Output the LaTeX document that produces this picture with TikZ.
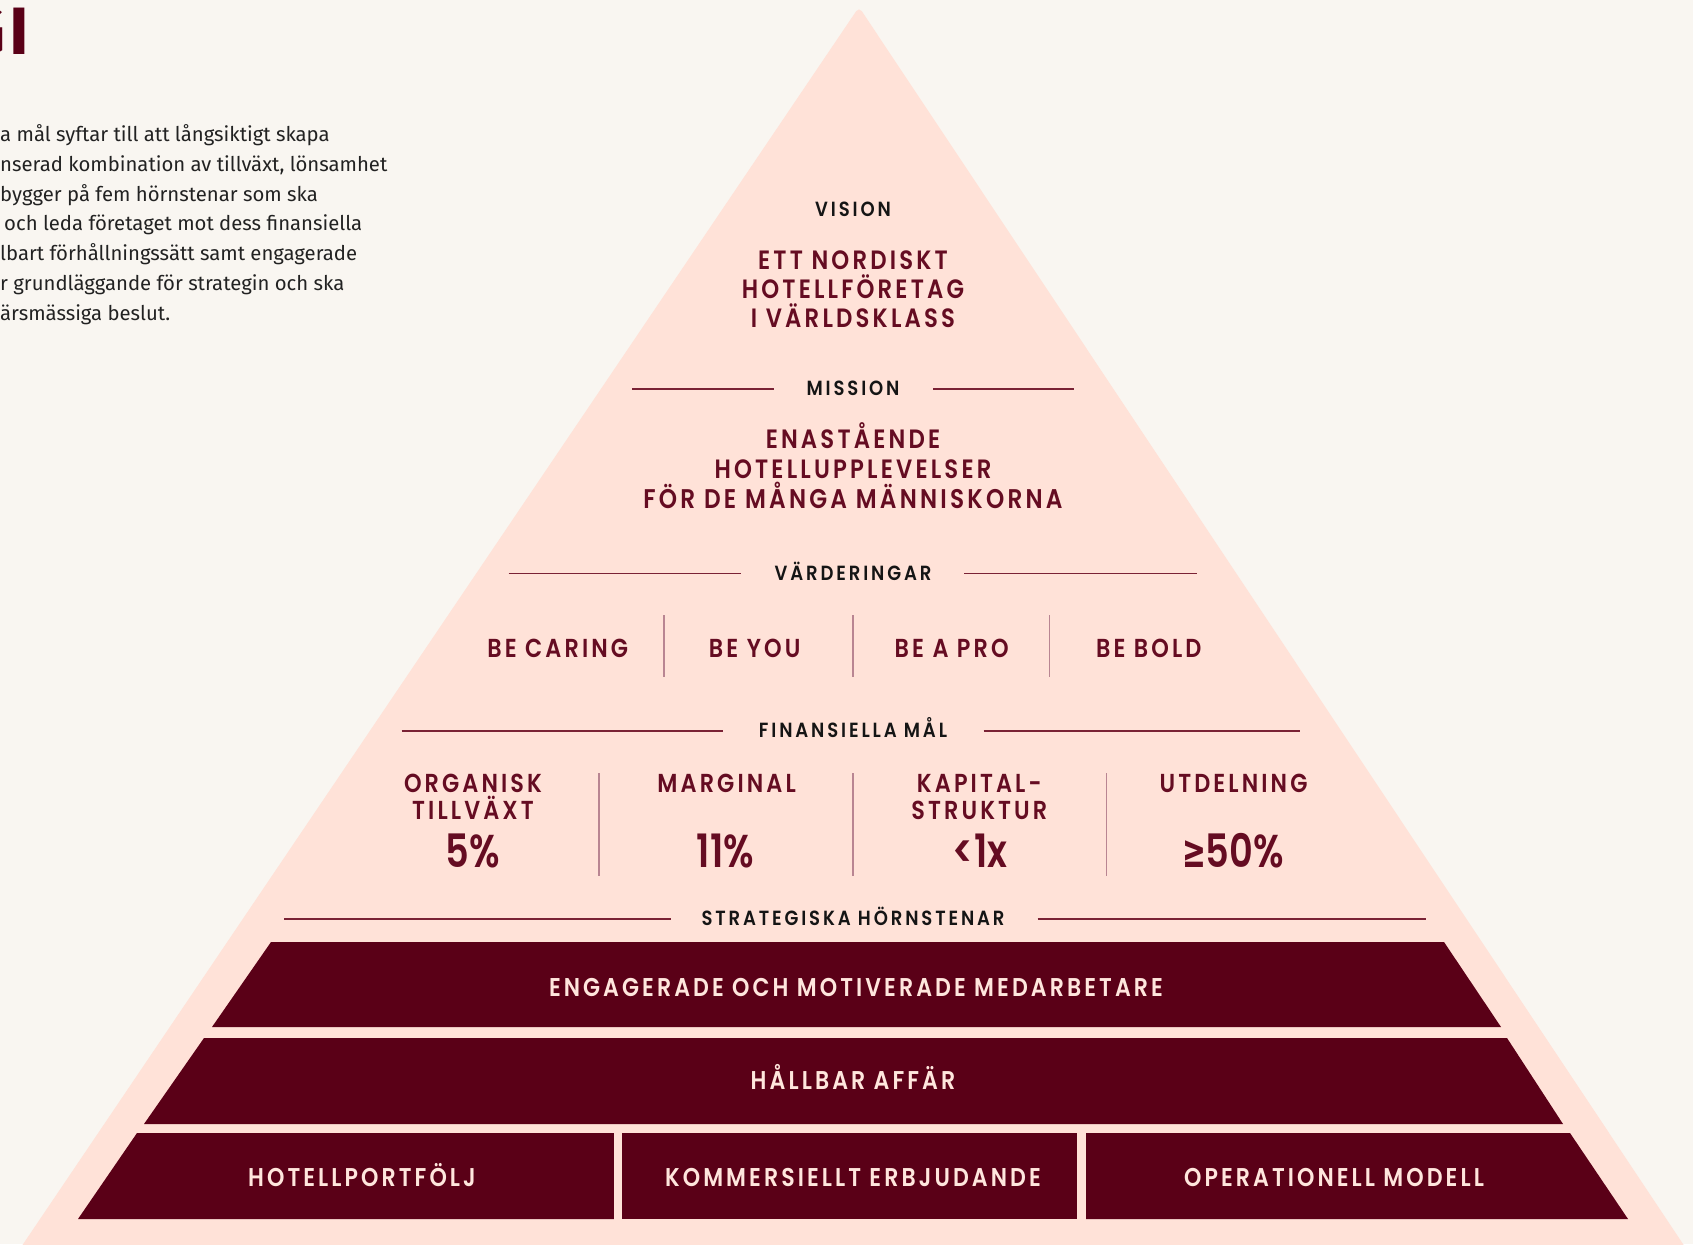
\documentclass[tikz,border=0pt]{standalone}
\usepackage{fontspec}
\usepackage{graphicx}
\setmainfont{Fira Sans}
\newfontfamily\pyrsp{Poppins SemiBold}[FakeStretch=0.86, LetterSpace=12]
\newfontfamily\pyrlab{Poppins SemiBold}[FakeStretch=0.88, LetterSpace=14]
\newfontfamily\pyrnum{Poppins SemiBold}[FakeStretch=0.8]
\newfontfamily\symf{DejaVu Sans}
\definecolor{bgc}{HTML}{F9F6F1}
\definecolor{pyrc}{HTML}{FFE2D8}
\definecolor{wine}{HTML}{5A0017}
\definecolor{redtxt}{HTML}{650C22}
\definecolor{rulec}{HTML}{7A2235}
\definecolor{sepc}{HTML}{B98592}
\definecolor{bandtxt}{HTML}{FFE6DD}
\definecolor{inkc}{HTML}{151515}
\definecolor{bodyc}{HTML}{222222}
\tikzset{
  lab/.style={anchor=base, inner sep=0, text=inkc, font=\pyrlab\fontsize{20.5}{20.5}\selectfont},
  big/.style={anchor=base, inner sep=0, text=redtxt, font=\pyrsp\fontsize{26.5}{26.5}\selectfont},
  val/.style={anchor=base, inner sep=0, text=redtxt, font=\pyrsp\fontsize{26}{26}\selectfont},
  numtxt/.style={anchor=base, inner sep=0, text=redtxt, font=\pyrnum\fontsize{46}{46}\selectfont},
  bandlbl/.style={anchor=base, inner sep=0, text=bandtxt, font=\pyrsp\fontsize{25.7}{25.7}\selectfont},
  body/.style={anchor=base west, inner sep=0, text=bodyc, font=\fontsize{20.3}{20.3}\selectfont},
  rule/.style={draw=rulec, line width=1.5pt},
  sep/.style={draw=sepc, line width=1.2pt},
  band/.style={fill=wine}
}
\begin{document}
\begin{tikzpicture}[x=1pt,y=-1pt]
\useasboundingbox (0,0) rectangle (1693,1244);
\fill[bgc] (0,0) rectangle (1693,1244);
% title fragment and body text
\node[anchor=base east, inner sep=0, text=wine, font=\bfseries\fontsize{67}{67}\selectfont] (title) at (29,55) {G\kern3pt I};
\node[body] (b1) at (0,141.7) {a mål syftar till att långsiktigt skapa};
\node[body] (b2) at (0,171.4) {nserad kombination av tillväxt, lönsamhet};
\node[body] (b3) at (0,201.1) {bygger på fem hörnstenar som ska};
\node[body] (b4) at (4,230.8) {och leda företaget mot dess finansiella};
\node[body] (b5) at (0,260.5) {lbart förhållningssätt samt engagerade};
\node[body] (b6) at (0,290.2) {r grundläggande för strategin och ska};
\node[body] (b7) at (0,320) {ärsmässiga beslut.};
% pyramid
\fill[pyrc, rounded corners=5pt] (859,7) -- (1695,1262) -- (11,1262) -- cycle;
% vision
\node[lab] (vision) at (853,216.5) {VISION};
\node[big] (v1) at (853,269.3) {ETT NORDISKT};
\node[big] (v2) at (853,298.3) {HOTELLFÖRETAG};
\node[big] (v3) at (853,327.3) {I VÄRLDSKLASS};
% mission
\coordinate (ml1) at (632,389); \coordinate (ml2) at (774,389);
\coordinate (mr1) at (933,389); \coordinate (mr2) at (1074,389);
\draw[rule] (ml1) -- (ml2); \draw[rule] (mr1) -- (mr2);
\node[lab] (mission) at (853,395.7) {MISSION};
\node[big] (m1) at (853,448.7) {ENASTÅENDE};
\node[big] (m2) at (853,478.7) {HOTELLUPPLEVELSER};
\node[big, font=\pyrsp\fontsize{27}{27}\selectfont] (m3) at (853,508) {FÖR DE MÅNGA MÄNNISKORNA};
% values
\coordinate (vl1) at (508.5,573.3); \coordinate (vl2) at (740.7,573.3);
\coordinate (vr1) at (964.2,573.3); \coordinate (vr2) at (1197.4,573.3);
\draw[rule] (vl1) -- (vl2); \draw[rule] (vr1) -- (vr2);
\node[lab] (varderingar) at (853,580.5) {VÄRDERINGAR};
\node[val] (caring) at (557.7,657) {BE CARING};
\node[val] (you) at (754.7,657) {BE YOU};
\node[val] (pro) at (951.7,657) {BE A PRO};
\node[val] (bold) at (1148.8,657) {BE BOLD};
\coordinate (s1a) at (664,615.4); \coordinate (s1b) at (664,677);
\coordinate (s2a) at (853,615.4); \coordinate (s2b) at (853,677);
\coordinate (s3a) at (1049.5,615.4); \coordinate (s3b) at (1049.5,677);
\draw[sep] (s1a) -- (s1b); \draw[sep] (s2a) -- (s2b); \draw[sep] (s3a) -- (s3b);
% financial goals
\coordinate (fl1) at (401.6,731); \coordinate (fl2) at (723.4,731);
\coordinate (fr1) at (983.6,731); \coordinate (fr2) at (1300,731);
\draw[rule] (fl1) -- (fl2); \draw[rule] (fr1) -- (fr2);
\node[lab] (finans) at (853,737.5) {FINANSIELLA MÅL};
\node[val] (org1) at (473,792) {ORGANISK};
\node[val] (org2) at (473,819) {TILLVÄXT};
\node[numtxt] (org3) at (473,867) {5\%};
\node[val] (mar1) at (726.6,792) {MARGINAL};
\node[numtxt] (mar3) at (725.5,867) {11\%};
\node[val] (kap1) at (979.3,792) {KAPITAL-};
\node[val] (kap2) at (979.3,819) {STRUKTUR};
\node[numtxt] (kap3) at (980,867) {<1x};
\node[val] (utd1) at (1233.5,792) {UTDELNING};
\node[numtxt] (utd3) at (1233,867) {\scalebox{0.62}[1]{\symf\bfseries ≥}50\%};
\coordinate (t1a) at (599,773); \coordinate (t1b) at (599,875.6);
\coordinate (t2a) at (853,773); \coordinate (t2b) at (853,875.6);
\coordinate (t3a) at (1106.7,773); \coordinate (t3b) at (1106.7,875.6);
\draw[sep] (t1a) -- (t1b); \draw[sep] (t2a) -- (t2b); \draw[sep] (t3a) -- (t3b);
% strategic cornerstones
\coordinate (hl1) at (284,918.8); \coordinate (hl2) at (670.5,918.8);
\coordinate (hr1) at (1037.6,918.8); \coordinate (hr2) at (1426.3,918.8);
\draw[rule] (hl1) -- (hl2); \draw[rule] (hr1) -- (hr2);
\node[lab] (strat) at (853,925) {STRATEGISKA HÖRNSTENAR};
% bands
\fill[band] (271,942) -- (1444,942) -- (1501,1027) -- (212,1027) -- cycle;
\node[bandlbl] (eng) at (856,996) {ENGAGERADE OCH MOTIVERADE MEDARBETARE};
\fill[band] (204,1038) -- (1507,1038) -- (1563,1124) -- (144,1124) -- cycle;
\node[bandlbl] (hall) at (853,1089) {HÅLLBAR AFFÄR};
\fill[band] (137,1133) -- (613.8,1133) -- (613.8,1219) -- (78,1219) -- cycle;
\fill[band] (622,1133) rectangle (1076.5,1219);
\fill[band] (1086,1133) -- (1570,1133) -- (1628,1219) -- (1086,1219) -- cycle;
\node[bandlbl] (hotell) at (362,1186) {HOTELLPORTFÖLJ};
\node[bandlbl] (komm) at (853,1186) {KOMMERSIELLT ERBJUDANDE};
\node[bandlbl] (oper) at (1334,1186) {OPERATIONELL MODELL};
\end{tikzpicture}
\end{document}
